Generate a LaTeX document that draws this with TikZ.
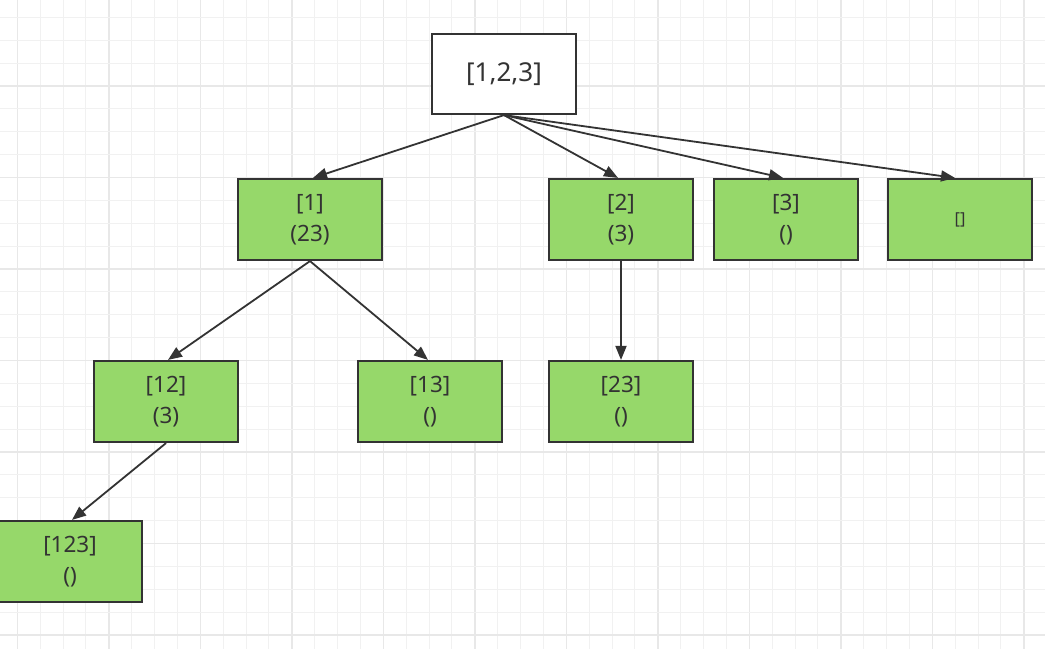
\documentclass[tikz,border=0pt]{standalone}
\usepackage{fontspec}
\setmainfont{Noto Sans}
\usetikzlibrary{arrows.meta}
\definecolor{gfill}{HTML}{96D86A}
\definecolor{edge}{HTML}{333333}
\definecolor{gminor}{HTML}{F1F1F1}
\definecolor{gmajor}{HTML}{E8E8E8}
\tikzset{
  box/.style={draw=edge, line width=2.2pt, minimum width=144pt, minimum height=81pt,
    inner sep=0pt, align=center, text=edge},
  greenbox/.style={box, fill=gfill, font=\fontsize{22.5}{31}\selectfont},
  rootbox/.style={box, fill=white, minimum height=80pt, font=\fontsize{26}{30}\selectfont},
  link/.style={draw=edge, line width=1.8pt, -{Triangle[length=14pt,width=11pt]}},
}
\begin{document}
\begin{tikzpicture}[x=1pt,y=-1pt]
\useasboundingbox (0,0) rectangle (1045,649);
\fill[white] (0,0) rectangle (1045,649);
\begin{scope}
\clip (0,0) rectangle (1045,649);
\foreach \k in {0,...,45} {
  \pgfmathsetmacro{\xx}{17.3+22.875*\k}
  \pgfmathtruncatemacro{\m}{mod(\k,4)}
  \ifnum\m=0
    \draw[gmajor, line width=1.4pt] (\xx,0) -- (\xx,649);
  \else
    \draw[gminor, line width=1pt] (\xx,0) -- (\xx,649);
  \fi
}
\foreach \k in {-1,...,28} {
  \pgfmathsetmacro{\yy}{17.3+22.875*\k}
  \pgfmathtruncatemacro{\m}{mod(\k+4,4)}
  \ifnum\m=3
    \draw[gmajor, line width=1.4pt] (0,\yy) -- (1045,\yy);
  \else
    \draw[gminor, line width=1pt] (0,\yy) -- (1045,\yy);
  \fi
}
\end{scope}

\node[rootbox] (root) at (504,74) {[1,2,3]};
\node[greenbox] (n1) at (310,219.5) {[1]\\(23)};
\node[greenbox] (n2) at (621,219.5) {[2]\\(3)};
\node[greenbox] (n3) at (786,219.5) {[3]\\()};
\node[greenbox, font=\fontsize{16.5}{20}\selectfont] (n4) at (960,219.5) {[]};
\node[greenbox] (n12) at (166,401.5) {[12]\\(3)};
\node[greenbox] (n13) at (430,401.5) {[13]\\()};
\node[greenbox] (n23) at (621,401.5) {[23]\\()};
\node[greenbox] (n123) at (70,561.5) {[123]\\()};

\draw[link] (root.south) -- ([xshift=3pt]n1.north);
\draw[link] (root.south) -- ([xshift=-3pt]n2.north);
\draw[link] (root.south) -- ([xshift=-3pt]n3.north);
\draw[link] (root.south) -- ([xshift=-5pt]n4.north);
\draw[link] (n1.south) -- ([xshift=2pt]n12.north);
\draw[link] (n1.south) -- ([xshift=-2pt]n13.north);
\draw[link] (n2.south) -- (n23.north);
\draw[link] (n12.south) -- ([xshift=2pt]n123.north);
\end{tikzpicture}
\end{document}
